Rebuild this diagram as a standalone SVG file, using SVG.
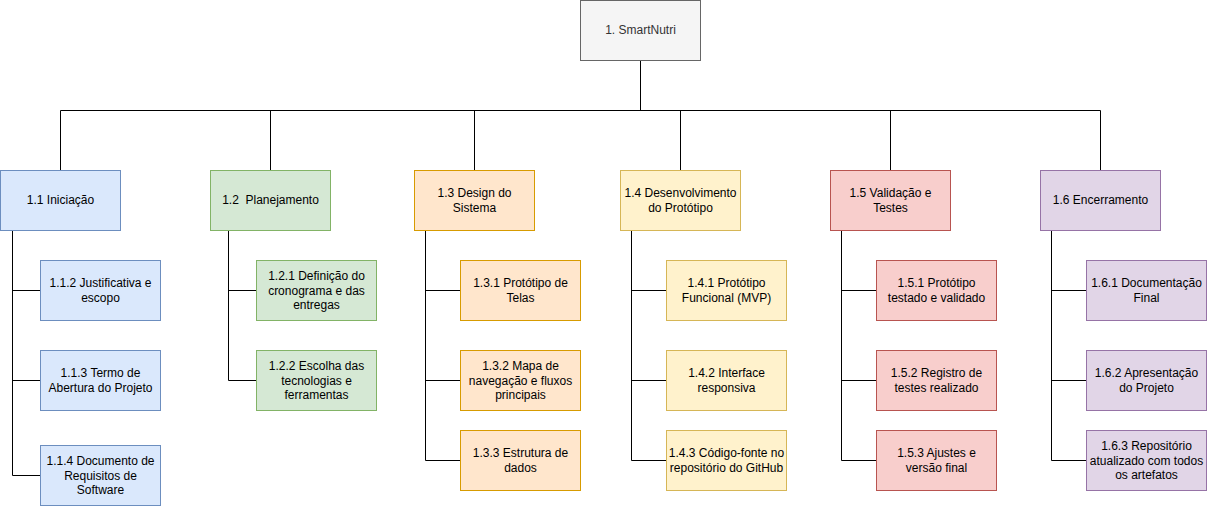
<svg xmlns="http://www.w3.org/2000/svg" width="1207" height="506" viewBox="0 0 1207 506">
<style>
rect{stroke-width:1}
text{font-family:"Liberation Sans",Arial,Helvetica,sans-serif;font-size:12px;fill:#000;text-anchor:middle;white-space:pre}
.root rect{fill:#f5f5f5;stroke:#666666}
.root text{fill:#333333}
.blue rect{fill:#dae8fc;stroke:#6c8ebf}
.green rect{fill:#d5e8d4;stroke:#82b366}
.orange rect{fill:#ffe6cc;stroke:#d79b00}
.yellow rect{fill:#fff2cc;stroke:#d6b656}
.red rect{fill:#f8cecc;stroke:#b85450}
.purple rect{fill:#e1d5e7;stroke:#9673a6}
#connectors path{fill:none;stroke:#000;stroke-width:1}
</style>
<rect width="1207" height="506" fill="#ffffff"/>
<g id="connectors">
<path d="M640.5 60V110.5"/>
<path d="M60.5 110.5H1100.5"/>
<path d="M60.5 110.5V170M270.5 110.5V170M474.5 110.5V170M680.5 110.5V170M890.5 110.5V170M1100.5 110.5V170"/>
<path d="M12.5 230V475.5H40M12.5 290.5H40M12.5 380.5H40"/>
<path d="M228.5 230V380.5H256M228.5 290.5H256"/>
<path d="M425.5 230V460.5H460M425.5 290.5H460M425.5 380.5H460"/>
<path d="M631.5 230V460.5H666M631.5 290.5H666M631.5 380.5H666"/>
<path d="M841.5 230V460.5H876M841.5 290.5H876M841.5 380.5H876"/>
<path d="M1051.5 230V460.5H1086M1051.5 290.5H1086M1051.5 380.5H1086"/>
</g>
<g id="n1" class="root"><rect x="580.5" y="0.5" width="120" height="60"/><text x="640.5" y="34.3">1. SmartNutri</text></g>
<g id="n1_1" class="blue"><rect x="0.5" y="170.5" width="120" height="60"/><text x="60.5" y="204.3">1.1 Iniciação</text></g>
<g id="n1_2" class="green"><rect x="210.5" y="170.5" width="120" height="60"/><text x="270.5" y="204.3">1.2  Planejamento</text></g>
<g id="n1_3" class="orange"><rect x="414.5" y="170.5" width="120" height="60"/><text x="474.5" y="197.1">1.3 Design do</text><text x="474.5" y="211.5">Sistema</text></g>
<g id="n1_4" class="yellow"><rect x="620.5" y="170.5" width="120" height="60"/><text x="680.5" y="197.1">1.4 Desenvolvimento</text><text x="680.5" y="211.5">do Protótipo</text></g>
<g id="n1_5" class="red"><rect x="830.5" y="170.5" width="120" height="60"/><text x="890.5" y="197.1">1.5 Validação e</text><text x="890.5" y="211.5">Testes</text></g>
<g id="n1_6" class="purple"><rect x="1040.5" y="170.5" width="120" height="60"/><text x="1100.5" y="204.3">1.6 Encerramento</text></g>

<g id="n1_1_2" class="blue"><rect x="40.5" y="260.5" width="120" height="60"/><text x="100.5" y="287.1">1.1.2 Justificativa e</text><text x="100.5" y="301.5">escopo</text></g>
<g id="n1_1_3" class="blue"><rect x="40.5" y="350.5" width="120" height="60"/><text x="100.5" y="377.1">1.1.3 Termo de</text><text x="100.5" y="391.5">Abertura do Projeto</text></g>
<g id="n1_1_4" class="blue"><rect x="40.5" y="445.5" width="120" height="60"/><text x="100.5" y="465.4">1.1.4 Documento de</text><text x="100.5" y="479.8">Requisitos de</text><text x="100.5" y="494.2">Software</text></g>

<g id="n1_2_1" class="green"><rect x="256.5" y="260.5" width="120" height="60"/><text x="316.5" y="280.4">1.2.1 Definição do</text><text x="316.5" y="294.8">cronograma e das</text><text x="316.5" y="309.2">entregas</text></g>
<g id="n1_2_2" class="green"><rect x="256.5" y="350.5" width="120" height="60"/><text x="316.5" y="370.4">1.2.2 Escolha das</text><text x="316.5" y="384.8">tecnologias e</text><text x="316.5" y="399.2">ferramentas</text></g>

<g id="n1_3_1" class="orange"><rect x="460.5" y="260.5" width="120" height="60"/><text x="520.5" y="287.1">1.3.1 Protótipo de</text><text x="520.5" y="301.5">Telas</text></g>
<g id="n1_3_2" class="orange"><rect x="460.5" y="350.5" width="120" height="60"/><text x="520.5" y="370.4">1.3.2 Mapa de</text><text x="520.5" y="384.8">navegação e fluxos</text><text x="520.5" y="399.2">principais</text></g>
<g id="n1_3_3" class="orange"><rect x="460.5" y="430.5" width="120" height="60"/><text x="520.5" y="457.1">1.3.3 Estrutura de</text><text x="520.5" y="471.5">dados</text></g>

<g id="n1_4_1" class="yellow"><rect x="666.5" y="260.5" width="120" height="60"/><text x="726.5" y="287.1">1.4.1 Protótipo</text><text x="726.5" y="301.5">Funcional (MVP)</text></g>
<g id="n1_4_2" class="yellow"><rect x="666.5" y="350.5" width="120" height="60"/><text x="726.5" y="377.1">1.4.2 Interface</text><text x="726.5" y="391.5">responsiva</text></g>
<g id="n1_4_3" class="yellow"><rect x="666.5" y="430.5" width="120" height="60"/><text x="726.5" y="457.1">1.4.3 Código-fonte no</text><text x="726.5" y="471.5">repositório do GitHub</text></g>

<g id="n1_5_1" class="red"><rect x="876.5" y="260.5" width="120" height="60"/><text x="936.5" y="287.1">1.5.1 Protótipo</text><text x="936.5" y="301.5">testado e validado</text></g>
<g id="n1_5_2" class="red"><rect x="876.5" y="350.5" width="120" height="60"/><text x="936.5" y="377.1">1.5.2 Registro de</text><text x="936.5" y="391.5">testes realizado</text></g>
<g id="n1_5_3" class="red"><rect x="876.5" y="430.5" width="120" height="60"/><text x="936.5" y="457.1">1.5.3 Ajustes e</text><text x="936.5" y="471.5">versão final</text></g>

<g id="n1_6_1" class="purple"><rect x="1086.5" y="260.5" width="120" height="60"/><text x="1146.5" y="287.1">1.6.1 Documentação</text><text x="1146.5" y="301.5">Final</text></g>
<g id="n1_6_2" class="purple"><rect x="1086.5" y="350.5" width="120" height="60"/><text x="1146.5" y="377.1">1.6.2 Apresentação</text><text x="1146.5" y="391.5">do Projeto</text></g>
<g id="n1_6_3" class="purple"><rect x="1086.5" y="430.5" width="120" height="60"/><text x="1146.5" y="450.4">1.6.3 Repositório</text><text x="1146.5" y="464.8">atualizado com todos</text><text x="1146.5" y="479.2">os artefatos</text></g>
</svg>
